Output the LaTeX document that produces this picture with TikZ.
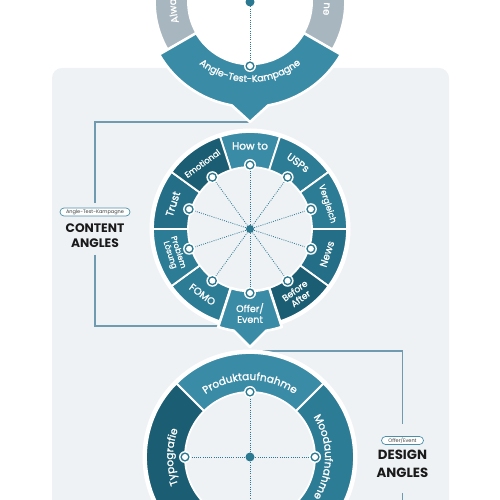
\documentclass[tikz,border=0pt]{standalone}
\usepackage{fontspec}
\setmainfont{Poppins}
\newfontfamily\popm{Poppins}[FakeBold=1.4]
\usetikzlibrary{decorations.text}
\definecolor{tlight}{HTML}{3A8BA6}
\definecolor{tmid}{HTML}{2D7C95}
\definecolor{tmidd}{HTML}{246F87}
\definecolor{tdark}{HTML}{1B5D72}
\definecolor{tgray}{HTML}{A8B6BF}
\definecolor{panel}{HTML}{EEF2F5}
\definecolor{connc}{HTML}{6F9BB0}
\definecolor{dotc}{HTML}{2B7891}
\definecolor{ink}{HTML}{1A1A1A}
\definecolor{pillc}{HTML}{4A8FAA}
\newcommand\lfont[2]{\popm\fontsize{#1}{#2}\selectfont}
\newcommand\wdot[1]{\fill[white] #1 circle (6); \fill[dotc] #1 circle (4.6); \fill[white] #1 circle (3);}
\tikzset{
  connline/.style={draw=connc, line width=1.1pt},
  seg/.style={draw=white, line width=1.8pt, line join=round},
  hiseg/.style={fill=tlight, draw=white, line width=2.6pt, line join=round},
  spoke/.style={draw=dotc, line width=0.8pt, dash pattern=on 0.9pt off 1.3pt},
  lbl/.style={text=white, align=center, inner sep=0pt},
  pill/.style={draw=pillc, fill=white, line width=0.7pt, rounded corners=4pt, minimum height=8pt, inner sep=0pt, text=ink!85, font=\fontsize{5}{5}\selectfont},
  headA/.style={align=center, text=ink, inner sep=0pt, font=\bfseries\fontsize{12.3}{15.6}\selectfont},
  headB/.style={align=center, text=ink, inner sep=0pt, font=\bfseries\fontsize{13.3}{17.7}\selectfont}
}
\begin{document}
\begin{tikzpicture}[x=1pt,y=1pt]
\useasboundingbox (0,0) rectangle (500,500);
\clip (0,0) rectangle (500,500);
\fill[panel, rounded corners=10pt] (52,432) rectangle (449,-30);
\coordinate (c1) at (250,498);
\coordinate (c2) at (250,271);
\coordinate (c3) at (250,43);
% side labels
\node[pill, minimum width=70pt] (pillA) at (95,288) {Angle-Test-Kampagne};
\node[headA] (headA) at (95,264.5) {CONTENT\\ANGLES};
\node[pill, minimum width=42pt] (pillB) at (402.5,59.5) {Offer/Event};
\node[headB] (headB) at (402.5,36) {DESIGN\\ANGLES};
% connectors
\coordinate (tipA) at (250,378);
\coordinate (kA1) at (95,378);
\coordinate (kA2) at (95,174);
\coordinate (offA) at (250,174);
\coordinate (kB0) at (250,149);
\coordinate (kB1) at (402.5,149);
\coordinate (kB2) at (402.5,-2);
\draw[connline, shorten >=5pt] (tipA) -- (kA1) -- (pillA.north);
\draw[connline, shorten <=7pt] (headA.south) -- (kA2) -- (offA);
\draw[connline, shorten >=12pt] (kB0) -- (kB1) -- (pillB.north);
\draw[connline, shorten <=15pt] (headB.south) -- (kB2);
% ---------- top wheel
\begin{scope}[shift={(c1)}]
  \filldraw[seg, fill=tgray] (90:62) arc[start angle=90, end angle=210, radius=62] -- (210:95) arc[start angle=210, end angle=90, radius=95] -- cycle;
  \filldraw[seg, fill=tgray] (-30:62) arc[start angle=-30, end angle=90, radius=62] -- (90:95) arc[start angle=90, end angle=-30, radius=95] -- cycle;
  \filldraw[hiseg] (-150:62) -- (-150:105) arc[start angle=-150, end angle=-100, radius=105] -- (-90:120) -- (-80:105) arc[start angle=-80, end angle=-30, radius=105] -- (-30:62) arc[start angle=-30, end angle=-150, radius=62] -- cycle;
  \foreach \a in {-90,30,150} \draw[spoke] (0,0) -- (\a:64);
  \fill[dotc] (0,0) circle (4.5);
  \wdot{(-90:64)}
  \path[decorate, decoration={text along path, text={|\lfont{9.5}{10}|Angle-Test-Kampagne}, text align=center, text color=white}] (-150:80) arc[start angle=-150, end angle=-30, radius=80];
  \path[decorate, decoration={text along path, text={|\lfont{10}{10}|Alwa}, text align=left, text color=white}] (196:74) arc[start angle=196, end angle=150, radius=74];
  \path[decorate, decoration={text along path, text={|\lfont{10}{10}|ne}, text align=right, text color=white}] (25:74) arc[start angle=25, end angle=-10, radius=74];
\end{scope}
% ---------- middle wheel
\begin{scope}[shift={(c2)}]
  \fill[white] (0,0) circle (100.5);
  \fill[panel] (0,0) circle (62);
  \foreach \a/\c in {90/tlight,54/tmid,18/tmid,-18/tmidd,-54/tdark,-126/tmid,-162/tmid,162/tmidd,126/tdark}{
    \filldraw[seg, fill=\c] ({\a-18}:62) arc[start angle=\a-18, end angle=\a+18, radius=62] -- ({\a+18}:97) arc[start angle=\a+18, end angle=\a-18, radius=97] -- cycle;
  }
  \filldraw[hiseg] (-108:62) -- (-108:103) arc[start angle=-108, end angle=-99, radius=103] -- (-90:118) -- (-81:103) arc[start angle=-81, end angle=-72, radius=103] -- (-72:62) arc[start angle=-72, end angle=-108, radius=62] -- cycle;
  \foreach \a in {90,54,18,-18,-54,-90,-126,-162,162,126} \draw[spoke] (0,0) -- (\a:64);
  \fill[dotc] (0,0) circle (4);
  \foreach \a in {90,54,18,-18,-54,-90,-126,-162,162,126} {\wdot{(\a:64)}}
  \node[lbl, font=\lfont{10.5}{11}] (howto) at (90:83) {How to};
  \node[lbl, font=\lfont{10.5}{11}, rotate=-36] (usps) at (54:82) {USPs};
  \node[lbl, font=\lfont{8.5}{9}, rotate=-72] (vergl) at (18:81) {Vergleich};
  \node[lbl, font=\lfont{10}{10}, rotate=72] (news) at (-18:81) {News};
  \node[lbl, font=\lfont{9}{9.8}, rotate=36] (before) at (-54:81) {Before\\After};
  \node[lbl, font=\lfont{9.5}{10.8}] (offer) at (-90:84) {Offer/\\Event};
  \node[lbl, font=\lfont{10}{10}, rotate=-36] (fomo) at (-126:81) {FOMO};
  \node[lbl, font=\lfont{8}{8.7}, rotate=-72] (probl) at (-162:80) {Problem\\Lösung};
  \node[lbl, font=\lfont{10.5}{11}, rotate=72] (trust) at (162:81) {Trust};
  \node[lbl, font=\lfont{8.3}{9}, rotate=36] (emot) at (126:81) {Emotional};
\end{scope}
% ---------- bottom wheel
\begin{scope}[shift={(c3)}]
  \fill[white] (0,0) circle (107.5);
  \fill[panel] (0,0) circle (65);
  \foreach \a/\c in {90/tlight,180/tdark,0/tmid,270/tmid}{
    \filldraw[seg, fill=\c] ({\a-45}:65) arc[start angle=\a-45, end angle=\a+45, radius=65] -- ({\a+45}:104) arc[start angle=\a+45, end angle=\a-45, radius=104] -- cycle;
  }
  \draw[spoke] (90:65) -- (270:65);
  \draw[spoke] (180:65) -- (0:65);
  \fill[dotc] (0,0) circle (4.5);
  \foreach \a in {90,180,0,270} {\wdot{(\a:65)}}
  \path[decorate, decoration={text along path, text={|\lfont{10.5}{11}|Produktaufnahme}, text align=center, text color=white}] (135:77) arc[start angle=135, end angle=45, radius=77];
  \path[decorate, decoration={text along path, text={|\lfont{10.5}{11}|Typografie}, text align=center, text color=white}] (225:77) arc[start angle=225, end angle=135, radius=77];
  \path[decorate, decoration={text along path, text={|\lfont{10.5}{11}|Moodaufnahme}, text align=center, text color=white}] (45:75) arc[start angle=45, end angle=-45, radius=75];
\end{scope}
\end{tikzpicture}
\end{document}
